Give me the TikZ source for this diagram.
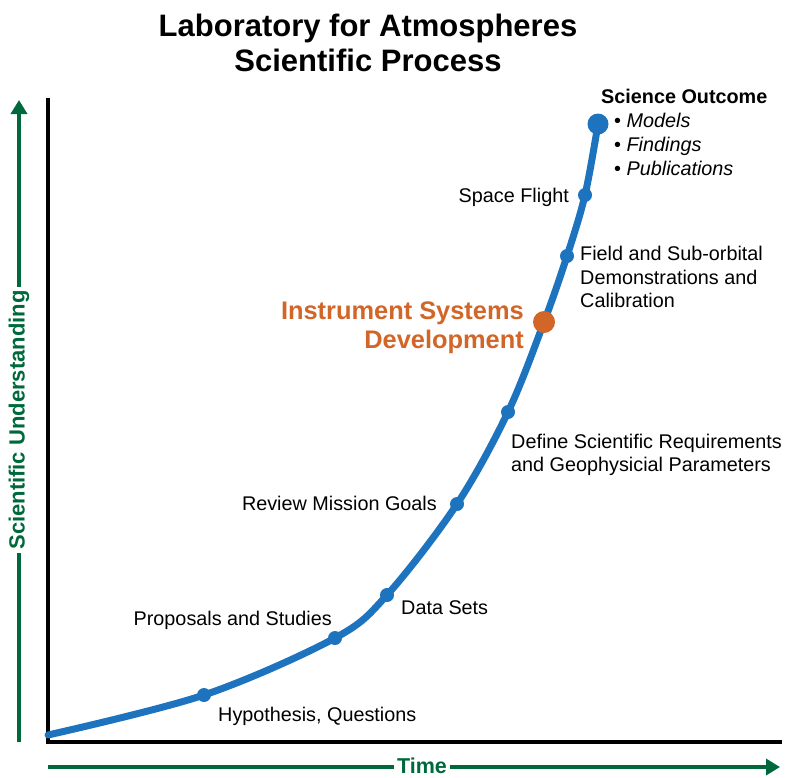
\documentclass[tikz,border=0pt]{standalone}
\usepackage{fontspec}
\setmainfont{Liberation Sans}
\usetikzlibrary{arrows.meta}
\definecolor{curveblue}{RGB}{30,115,190}
\definecolor{devorange}{RGB}{210,102,40}
\definecolor{axisgreen}{RGB}{0,105,60}

\begin{document}
\begin{tikzpicture}[x=1pt, y=-1pt,
  step label/.style = {font=\fontsize{19.8}{23.5}\selectfont, inner sep=0pt},
  dot/.style = {circle, fill=curveblue, inner sep=0pt, minimum size=14pt},
  axis/.style = {line width=4pt, line cap=rect},
  green line/.style = {axisgreen, line width=4.5pt},
  green arrow/.style = {axisgreen, line width=4.5pt, -{Triangle[length=14pt, width=16pt]}}]
				\useasboundingbox (0,0) rectangle (791,777);
				% title
				\node[font=\bfseries\fontsize{31}{35}\selectfont, align=center] (title) at (368,43)
					{Laboratory for Atmospheres\\Scientific Process};
				% axes
				\coordinate (origin) at (48,742);
				\coordinate (ytop) at (48,100);
				\coordinate (xend) at (780,742);
				\draw[axis] (ytop) -- (origin) -- (xend);
				% green axis labels
				\node[axisgreen, font=\bfseries\fontsize{22}{26}\selectfont, rotate=90, inner sep=3pt] (ylabel) at (19,420) {Scientific Understanding};
				\coordinate (ylow) at (19,742);
				\coordinate (yhigh) at (19,100);
				\draw[green line] (ylow) -- (ylabel.west);
				\draw[green arrow] (ylabel.east) -- (yhigh);
				\node[axisgreen, font=\bfseries\fontsize{21.5}{26}\selectfont, inner xsep=3pt, inner ysep=0pt] (xlabel) at (422,766) {Time};
				\coordinate (xlow) at (48,767);
				\coordinate (xhigh) at (780,767);
				\draw[green line] (xlow) -- (xlabel.west |- xlow);
				\draw[green arrow] (xlabel.east |- xlow) -- (xhigh);
				% points on the curve
				\coordinate (start) at (48,735);
				\coordinate (hypo) at (204,695);
				\coordinate (prop) at (335,638);
				\coordinate (data) at (387,595);
				\coordinate (review) at (457,504);
				\coordinate (define) at (508,412);
				\coordinate (instr) at (544,322);
				\coordinate (field) at (567,256);
				\coordinate (space) at (585,195);
				\coordinate (outcome) at (598,124);
				\draw[curveblue, line width=7pt, line cap=round] plot[smooth, tension=0.55] coordinates
					{(start) (hypo) (prop) (data) (review) (define) (instr) (field) (space) (outcome)};
				\foreach \p in {hypo, prop, data, review, define, field, space}
					\node[dot] at (\p) {};
				\node[dot, minimum size=21pt] at (outcome) {};
				\node[dot, fill=devorange, minimum size=22pt] at (instr) {};
				% labels
				\node[step label, anchor=west] (hypotext) at (218,716) {Hypothesis, Questions};
				\node[step label, anchor=east] (proptext) at (332,620) {Proposals and Studies};
				\node[step label, anchor=west] (datatext) at (401,608) {Data Sets};
				\node[step label, anchor=east] (reviewtext) at (437,503) {Review Mission Goals};
				\node[step label, anchor=west, align=left] (definetext) at (511,455)
					{Define Scientific Requirements\\and Geophysicial Parameters};
				\node[devorange, font=\bfseries\fontsize{25.4}{29}\selectfont, anchor=east, align=right, inner sep=0pt] (instrtext) at (524,328)
					{Instrument Systems\\Development};
				\node[step label, anchor=west, align=left] (fieldtext) at (580,277)
					{Field and Sub-orbital\\Demonstrations and\\Calibration};
				\node[step label, anchor=east] (spacetext) at (569,197) {Space Flight};
				\node[font=\bfseries\fontsize{19.8}{22}\selectfont, anchor=west, inner sep=0pt] (outtext) at (601,96) {Science Outcome};
				\node[step label, anchor=west, align=left, font=\fontsize{19.8}{24}\selectfont] (outlist) at (614,144)
					{\textbullet\ \textit{Models}\\\textbullet\ \textit{Findings}\\\textbullet\ \textit{Publications}};
				
				\end{tikzpicture}
\end{document}
